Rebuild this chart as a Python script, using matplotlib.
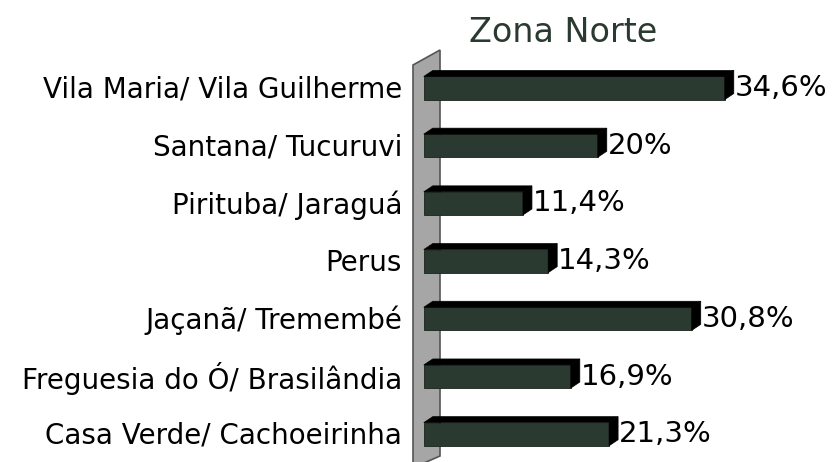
import numpy as np
import matplotlib.pyplot as plt
from matplotlib.patches import Polygon

# data, top to bottom as drawn
regioes = ["Vila Maria/ Vila Guilherme", "Santana/ Tucuruvi", "Pirituba/ Jaraguá",
           "Perus", "Jaçanã/ Tremembé", "Freguesia do Ó/ Brasilândia",
           "Casa Verde/ Cachoeirinha"]
valores = [34.6, 20.0, 11.4, 14.3, 30.8, 16.9, 21.3]
rotulos = ["34,6%", "20%", "11,4%", "14,3%", "30,8%", "16,9%", "21,3%"]

verde = "#2b3a30"
W, H = 839, 462

fig = plt.figure(figsize=(W / 100, H / 100), dpi=100)

# axes placed in pixel terms: x=0 at px 429, 8.7 px per %, rows every 57.7 px from y=88
px_per_pct = 8.7
x0_px = 429
row_px = 57.7
ax_left_px = 405
ax_top_px = 40
ax = fig.add_axes([ax_left_px / W, 0, (W - ax_left_px) / W, (H - ax_top_px) / H])
ax.set_xlim((ax_left_px - x0_px) / px_per_pct, (W - x0_px) / px_per_pct)
y_top = -(88 - ax_top_px) / row_px
y_bot = (H - 88) / row_px
ax.set_ylim(y_bot, y_top)
ax.axis("off")

pos = np.arange(len(valores))
alt = 0.40
dx = 9 / px_per_pct      # depth to the right
dy = 6 / row_px          # depth upwards (y inverted)

# side wall
wx0, wx1 = -16 / px_per_pct, 11 / px_per_pct
wall = Polygon([(wx0, (65 - 88) / row_px), (wx1, (50 - 88) / row_px),
                (wx1, (456 - 88) / row_px), (wx0, y_bot + 0.1)],
               closed=True, facecolor="#a6a6a6", edgecolor="#555555", lw=1.2, zorder=1)
ax.add_patch(wall)

bars = ax.barh(pos, valores, height=alt, left=-0.6, color=verde, edgecolor="#1a241d",
               lw=0.6, zorder=3)
for b, v, r in zip(bars, valores, rotulos):
    x_a = b.get_x()
    x_b = x_a + b.get_width()
    yt = b.get_y()
    yb = yt + b.get_height()
    topo = Polygon([(x_a, yt), (x_b, yt), (x_b + dx, yt - dy), (x_a + dx, yt - dy)],
                   closed=True, facecolor="black", edgecolor="black", lw=0.5, zorder=4)
    lado = Polygon([(x_b, yt), (x_b + dx, yt - dy), (x_b + dx, yb - dy), (x_b, yb)],
                   closed=True, facecolor="black", edgecolor="black", lw=0.5, zorder=4)
    ax.add_patch(topo)
    ax.add_patch(lado)
    ax.text(x_b + dx + 0.1, yt + b.get_height() / 2, r, fontsize=21,
            va="center", ha="left", color="black", zorder=5)

for i, nome in enumerate(regioes):
    ax.text((402 - x0_px) / px_per_pct, i + 0.03, nome, fontsize=20,
            va="center", ha="right", color="black", clip_on=False)

fig.text(563 / W, 1 - 33 / H, "Zona Norte", fontsize=24, color=verde,
         ha="center", va="center")

fig.savefig("out.png", dpi=100, facecolor="white")
